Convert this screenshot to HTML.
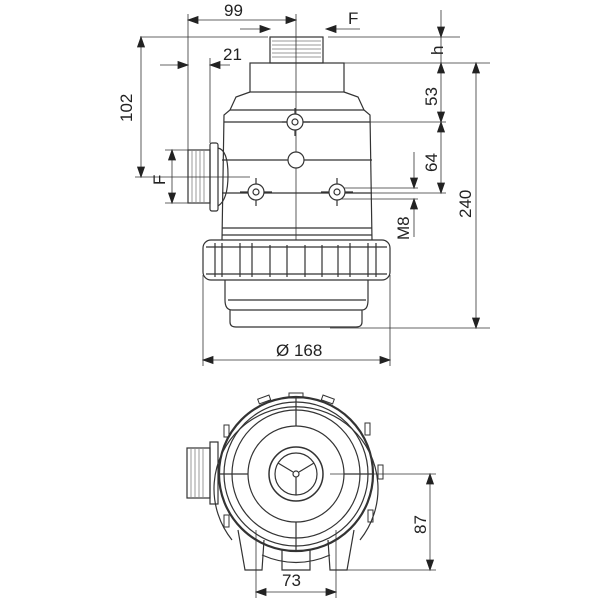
<!DOCTYPE html>
<html><head><style>body{margin:0;background:#fff}svg{display:block}text{font-family:"Liberation Sans",sans-serif;font-size:17px;fill:#222;stroke:none}</style></head><body>
<svg width="600" height="600" viewBox="0 0 600 600" stroke="#333" fill="none" stroke-width="1">
<g stroke-width="0.8">
<line x1="188" y1="20" x2="296" y2="20"/>
<line x1="240" y1="29" x2="270" y2="29"/><line x1="360" y1="29" x2="326" y2="29"/>
<line x1="140" y1="37" x2="268" y2="37"/><line x1="328" y1="37" x2="460" y2="37"/>
<line x1="441" y1="10" x2="441" y2="193"/>
<line x1="344" y1="63" x2="490" y2="63"/><line x1="305" y1="122" x2="446" y2="122"/><line x1="345" y1="193" x2="446" y2="193"/>
<line x1="476" y1="63" x2="476" y2="328"/>
<line x1="330" y1="328" x2="490" y2="328"/>
<line x1="141" y1="37" x2="141" y2="177"/>
<line x1="135" y1="177" x2="250" y2="177"/>
<line x1="160" y1="65" x2="188" y2="65"/><line x1="230" y1="65" x2="210" y2="65"/>
<line x1="188" y1="14" x2="188" y2="150"/><line x1="210" y1="58" x2="210" y2="143"/>
<line x1="172" y1="150" x2="172" y2="203"/>
<line x1="165" y1="150" x2="188" y2="150"/><line x1="165" y1="203" x2="188" y2="203"/>
<line x1="414" y1="152" x2="414" y2="188"/><line x1="414" y1="237" x2="414" y2="199"/>
<line x1="340" y1="188" x2="418" y2="188"/><line x1="340" y1="199" x2="418" y2="199"/>
<line x1="203" y1="275" x2="203" y2="366"/><line x1="390" y1="275" x2="390" y2="366"/>
<line x1="203" y1="360" x2="390" y2="360"/>
<line x1="296" y1="14" x2="296" y2="240"/>
<line x1="430" y1="474" x2="430" y2="570"/>
<line x1="330" y1="474" x2="436" y2="474"/><line x1="340" y1="570" x2="436" y2="570"/>
<line x1="256" y1="530" x2="256" y2="598"/><line x1="336" y1="530" x2="336" y2="598"/>
<line x1="256" y1="592" x2="336" y2="592"/>
</g>
<path fill="#222" stroke="#222" stroke-width="0.8" stroke-linejoin="miter" d="
M188 20L198 16.5L198 23.5Z M296 20L286 16.5L286 23.5Z
M270 29L260 25.5L260 32.5Z M326 29L336 25.5L336 32.5Z
M441 37L437.5 27L444.5 27Z M441 63L437.5 73L444.5 73Z
M441 122L437.5 112L444.5 112Z M441 122L437.5 132L444.5 132Z
M441 193L437.5 183L444.5 183Z
M476 63L472.5 73L479.5 73Z M476 328L472.5 318L479.5 318Z
M141 37L137.5 47L144.5 47Z M141 177L137.5 167L144.5 167Z
M188 65L178 61.5L178 68.5Z M210 65L220 61.5L220 68.5Z
M172 150L168.5 160L175.5 160Z M172 203L168.5 193L175.5 193Z
M414 188L410.5 178L417.5 178Z M414 199L410.5 209L417.5 209Z
M203 360L213 356.5L213 363.5Z M390 360L380 356.5L380 363.5Z
M430 474L426.5 484L433.5 484Z M430 570L426.5 560L433.5 560Z
M256 592L266 588.5L266 595.5Z M336 592L326 588.5L326 595.5Z"/>
<text x="224" y="16">99</text><text x="348" y="24">F</text><text x="223" y="60">21</text>
<text x="276" y="356">Ø 168</text><text x="282" y="586">73</text>
<text transform="translate(443,55) rotate(-90)">h</text>
<text transform="translate(437,106) rotate(-90)">53</text>
<text transform="translate(437,172) rotate(-90)">64</text>
<text transform="translate(471,218) rotate(-90)">240</text>
<text transform="translate(132,122) rotate(-90)">102</text>
<text transform="translate(165,185) rotate(-90)">F</text>
<text transform="translate(409,240) rotate(-90)">M8</text>
<text transform="translate(426,534) rotate(-90)">87</text>
<g stroke-width="1.2">
<rect x="270" y="37" width="53" height="26"/>
<g stroke-width="0.5"><path d="M272 41H321M272 45H321M272 49H321M272 53H321M272 57H321"/></g>
<rect x="250" y="63" width="94" height="29"/>
<path d="M250 92 L236 97 L230 110 L224 115 L222 240 M344 92 L358 97 L364 110 L370 115 L372 240"/>
<path d="M230 110H364M224 122H370M222 160H372M222 193H372M222 228H372M222 235H372"/>
<rect x="203" y="240" width="187" height="40" rx="8"/>
<path d="M206 247H387M206 274H387"/>
<path d="M215 243V277M222 243V277M240 243V277M252 243V277M270 245V277M287 245V277M305 245V277M322 245V277M338 245V277M350 243V277M368 243V277M376 243V277"/>
<path d="M225 280V300Q225 310 232 310H362Q368 310 368 300V280M230 310V322Q230 327 236 327H356Q362 327 362 322V310M228 300H366"/>
<rect x="188" y="150" width="22" height="53"/>
<g stroke-width="0.5"><path d="M192 151V202M196 151V202M200 151V202M204 151V202"/></g>
<rect x="210" y="143" width="8" height="68" rx="2"/>
<path d="M218 148Q228 150 228 175Q228 200 218 206"/>
<circle cx="296" cy="160" r="8" fill="#fff"/>
</g>
<g stroke-width="1.2" fill="#fff">
<g><path d="M295 108V136M282 122H310"/><circle cx="295" cy="122" r="8"/><circle cx="295" cy="122" r="3"/></g>
<g><path d="M256 178V206M240 192H272"/><circle cx="256" cy="192" r="8"/><circle cx="256" cy="192" r="3"/></g>
<g><path d="M337 178V206M321 192H353"/><circle cx="337" cy="192" r="8"/><circle cx="337" cy="192" r="3"/></g>
</g>
<g stroke-width="1.2">
<g stroke-width="1"><rect x="289" y="393" width="14" height="5"/><rect x="258" y="397" width="12" height="5" transform="rotate(-20 264 399)"/><rect x="322" y="397" width="12" height="5" transform="rotate(20 328 399)"/><rect x="224" y="425" width="5" height="12"/><rect x="365" y="423" width="5" height="12"/><rect x="378" y="465" width="5" height="14"/><rect x="368" y="510" width="5" height="12"/><rect x="224" y="515" width="5" height="12"/></g>
<path d="M232 540 A82 82 0 1 1 360 540"/>
<circle cx="296" cy="474" r="77" stroke-width="2.2"/>
<circle cx="296" cy="474" r="72"/>
<circle cx="296" cy="474" r="64"/>
<circle cx="296" cy="474" r="48"/>
<circle cx="296" cy="474" r="27" stroke-width="1.5"/>
<circle cx="296" cy="474" r="21"/>
<circle cx="296" cy="474" r="3"/>
<path d="M296 477V495M293 472L278 463M299 472L314 463"/>
<path d="M296 398V426M296 522V552M220 474H248M344 474H372"/>
<rect x="187" y="448" width="23" height="50"/>
<g stroke-width="0.5"><path d="M191 449V497M195 449V497M199 449V497M203 449V497"/></g>
<rect x="210" y="442" width="8" height="62"/>
<path d="M238 530 L245 570 H262 L264 540 M354 530 L347 570 H330 L328 540 M282 550 V570 H310 V550 M262 555 Q296 570 330 555"/>
</g>
</svg>
</body></html>
